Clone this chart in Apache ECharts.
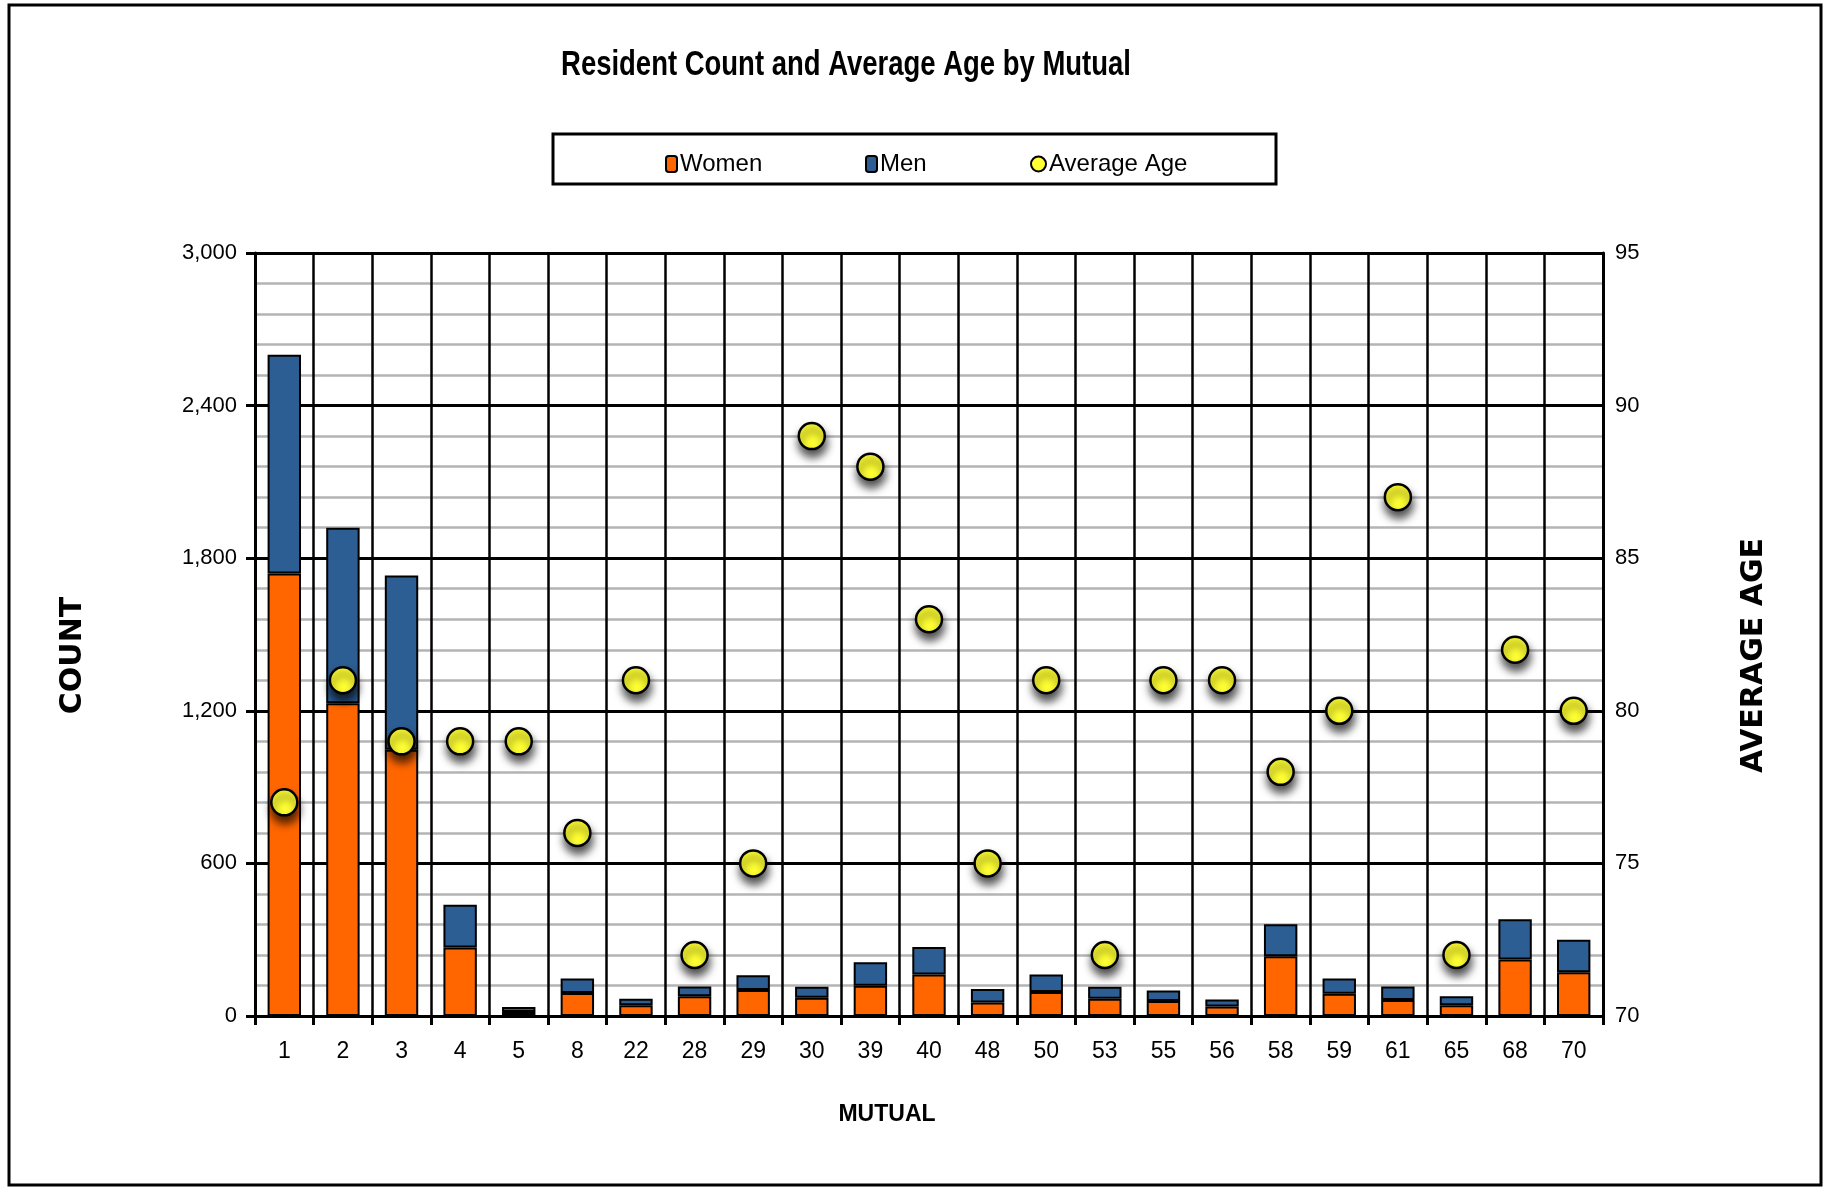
<!DOCTYPE html>
<html>
<head>
<meta charset="utf-8">
<script src="https://cdn.jsdelivr.net/npm/echarts@6/dist/echarts.min.js"></script>
<style>
html,body{margin:0;padding:0;background:#fff;}
#chart{width:1828px;height:1188px;}
</style>
</head>
<body>
<div id="chart"></div>
<script>
const categories = ['1','2','3','4','5','8','22','28','29','30','39','40','48','50','53','55','56','58','59','61','65','68','70'];
const women = [1740,1230,1047,269,16,90,42,78,102,72,119,163,53,94,68,59,37,235,87,63,42,222,172];
const men   = [860,690,685,168,19,57,26,38,58,43,92,108,53,69,47,41,28,126,60,53,36,158,128];
const avgAge = [77,81,79,79,79,76,81,72,75,89,88,83,75,81,72,81,81,78,80,87,72,82,80];
const countTicks = [0,600,1200,1800,2400,3000];
const ageTicks = [70,75,80,85,90,95];

const sans = "'Liberation Sans',Arial,sans-serif";
const wide = "'DejaVu Sans','Liberation Sans',sans-serif";

const chart = echarts.init(document.getElementById('chart'));
chart.setOption({
  backgroundColor: '#fff',
  animation: false,
  graphic: [
    {type: 'rect', shape: {x: 9, y: 5, width: 1812, height: 1180}, style: {fill: 'none', stroke: '#000', lineWidth: 3}, silent: true},
    {type: 'rect', shape: {x: 553, y: 134, width: 723, height: 50}, style: {fill: '#fff', stroke: '#000', lineWidth: 3}, silent: true, z: -1},
    {type: 'text', x: 846, y: 65, scaleX: 0.785, silent: true,
     style: {text: 'Resident Count and Average Age by Mutual', fontFamily: sans, fontWeight: 'bold', fontSize: 35,
             fill: '#000', align: 'center', verticalAlign: 'middle'}}
  ],
  legend: [
    {data: ['Women'], left: 660, top: 147, itemWidth: 11, itemHeight: 16, itemGap: 4,
     textStyle: {fontFamily: sans, fontSize: 24, color: '#000', padding: [0,0,0,-2]}},
    {data: ['Men'], left: 860, top: 147, itemWidth: 11, itemHeight: 16, itemGap: 4,
     textStyle: {fontFamily: sans, fontSize: 24, color: '#000', padding: [0,0,0,-2]}},
    {data: [{name: 'Average Age', itemStyle: {shadowBlur: 0, shadowOffsetX: 0, shadowOffsetY: 0}}], left: 1025, top: 147, itemWidth: 15, itemHeight: 15, itemGap: 4,
     textStyle: {fontFamily: sans, fontSize: 24, color: '#000', padding: [0,0,0,-2]}}
  ],
  grid: {left: 255, right: 225, top: 253, bottom: 172},
  xAxis: {
    type: 'category',
    data: categories,
    name: 'MUTUAL',
    nameLocation: 'middle',
    nameGap: 87,
    nameTextStyle: {fontFamily: sans, fontWeight: 'bold', fontSize: 23, color: '#000', padding: [0, 84, 0, 0]},
    axisLine: {show: true, lineStyle: {color: '#000', width: 3}},
    axisTick: {show: true, length: 9, lineStyle: {color: '#000', width: 3}},
    axisLabel: {fontFamily: sans, fontSize: 23, color: '#000', margin: 24},
    splitLine: {show: true, lineStyle: {color: '#000', width: 2.5}}
  },
  yAxis: [
    {
      type: 'value', min: 0, max: 3000, interval: 600,
      name: 'COUNT', nameLocation: 'middle', nameGap: 167, nameRotate: 90,
      nameTextStyle: {fontFamily: wide, fontWeight: 'bold', fontSize: 30, color: '#000', padding: [0, 42, 0, 0]},
      axisLine: {show: true, lineStyle: {color: '#000', width: 3}},
      axisTick: {show: true, length: 9, lineStyle: {color: '#000', width: 3}},
      minorTick: {show: false, splitNumber: 5},
      minorSplitLine: {show: true, lineStyle: {color: '#b4b4b4', width: 2.5}},
      axisLabel: {fontFamily: sans, fontSize: 22, color: '#000', margin: 18,
        formatter: v => countTicks.includes(v) ? v.toLocaleString('en-US') : ''},
      splitLine: {show: true, lineStyle: {color: '#000', width: 3}}
    },
    {
      type: 'value', min: 70, max: 95, interval: 5,
      name: 'AVERAGE AGE', nameLocation: 'middle', nameGap: 136, nameRotate: 90,
      nameTextStyle: {fontFamily: wide, fontWeight: 'bold', fontSize: 30, color: '#000', padding: [0, 42, 0, 0]},
      axisLine: {show: true, lineStyle: {color: '#000', width: 3}},
      axisTick: {show: false},
      axisLabel: {fontFamily: sans, fontSize: 22, color: '#000', margin: 12,
        formatter: v => ageTicks.includes(v) ? String(v) : ''},
      splitLine: {show: false}
    }
  ],
  series: [
    {name: 'Women', type: 'bar', stack: 'total', data: women, barWidth: '57%',
     itemStyle: {color: '#FF6600', borderColor: '#000', borderWidth: 2}},
    {name: 'Men', type: 'bar', stack: 'total', data: men, barWidth: '57%',
     itemStyle: {color: '#2C5E94', borderColor: '#000', borderWidth: 2}},
    {name: 'Average Age', type: 'scatter', yAxisIndex: 1, data: avgAge, symbol: 'circle', symbolSize: 26, z: 5,
     itemStyle: {color: '#FFFF33', opacity: 1, borderColor: '#000', borderWidth: 2.5,
       shadowColor: 'rgba(0,0,0,0.7)', shadowBlur: 9, shadowOffsetX: 1, shadowOffsetY: 7}}
  ]
});
</script>
</body>
</html>
